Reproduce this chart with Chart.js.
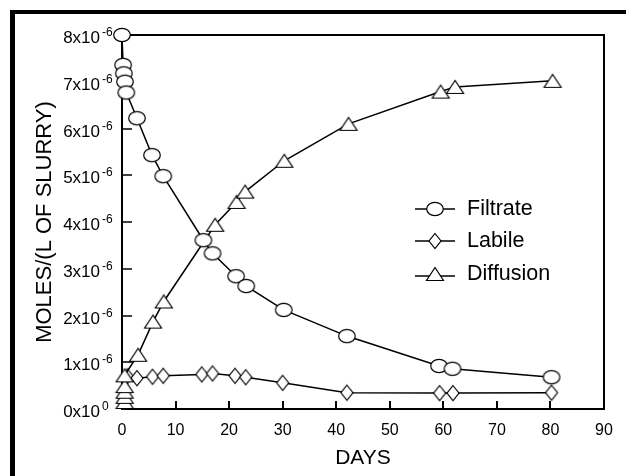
<!DOCTYPE html>
<html>
<head>
<meta charset="utf-8">
<title>Moles per litre of slurry vs days</title>
<script src="https://cdn.jsdelivr.net/npm/chart.js@4.4.0/dist/chart.umd.min.js"></script>
<style>
    html, body { margin: 0; padding: 0; background: #fff; }
    #wrap { width: 626px; height: 476px; }
</style>
</head>
<body>
<div id="wrap"><canvas id="chart" width="626" height="476"></canvas></div>
<script>
// Datos (valores en unidades de 1e-6 mol/L)
const xTicks = [0, 10, 20, 30, 40, 50, 60, 70, 80, 90];
const yTicks = [0, 1, 2, 3, 4, 5, 6, 7, 8];
const yExponents = ['0', '-6', '-6', '-6', '-6', '-6', '-6', '-6', '-6'];

const filtrateDays = [0, 0.2, 0.35, 0.55, 0.8, 2.8, 5.6, 7.7, 15.2, 16.9, 21.3, 23.2, 30.2, 42, 59.2, 61.7, 80.2];
const filtrate = [8.0, 7.36, 7.18, 7.0, 6.77, 6.22, 5.43, 4.98, 3.61, 3.33, 2.84, 2.63, 2.12, 1.56, 0.92, 0.86, 0.68];

const labileDays = [1.0, 2.8, 5.7, 7.7, 14.9, 16.9, 21.1, 23.1, 30.0, 42.0, 59.3, 61.8, 80.2];
const labile = [0.70, 0.66, 0.69, 0.71, 0.74, 0.76, 0.71, 0.68, 0.56, 0.35, 0.34, 0.34, 0.35];

const diffusionDays = [0.5, 0.5, 0.5, 0.5, 0.5, 3.0, 5.8, 7.8, 17.4, 21.4, 23.0, 30.3, 42.3, 59.5, 62.2, 80.4];
const diffusion = [0.15, 0.26, 0.37, 0.49, 0.72, 1.16, 1.87, 2.30, 3.94, 4.43, 4.65, 5.31, 6.10, 6.79, 6.89, 7.02];

const seriesNames = ['Filtrate', 'Labile', 'Diffusion'];

const FONT = '"Liberation Sans", Arial, Helvetica, sans-serif';

// Marcadores huecos (fondo blanco, borde negro)
function makeMarker(kind) {
    const c = document.createElement('canvas');
    c.width = 22;
    c.height = 22;
    const g = c.getContext('2d');
    g.fillStyle = '#fff';
    g.strokeStyle = '#000';
    g.lineWidth = 1.2;
    g.beginPath();
    if (kind === 'circle') {
        g.ellipse(11, 11, 8.3, 6.7, 0, 0, Math.PI * 2);
    } else if (kind === 'diamond') {
        g.moveTo(11, 3.5); g.lineTo(17, 11); g.lineTo(11, 18.5); g.lineTo(5, 11); g.closePath();
    } else {
        g.moveTo(11, 4.5); g.lineTo(19.5, 17.5); g.lineTo(2.5, 17.5); g.closePath();
    }
    g.fill();
    g.stroke();
    return c;
}

const markers = [makeMarker('circle'), makeMarker('diamond'), makeMarker('triangle')];

function toPoints(xs, ys) {
    return xs.map((x, i) => ({ x: x, y: ys[i] }));
}

function makeDataset(label, xs, ys, marker, order) {
    return {
        label: label,
        data: toPoints(xs, ys),
        borderColor: '#000',
        borderWidth: 1.5,
        pointStyle: marker,
        pointRadius: 8,
        tension: 0,
        clip: false,
        order: order
    };
}

// Marco, ejes y marcas de graduación hacia dentro
const framePlugin = {
    id: 'frame',
    beforeDraw(chart) {
        const ctx = chart.ctx;
        ctx.save();
        ctx.fillStyle = '#fff';
        ctx.fillRect(0, 0, chart.width, chart.height);
        ctx.fillStyle = '#000';
        ctx.fillRect(10, 10, 5, chart.height - 10);
        ctx.fillRect(10, 10, chart.width - 10, 4);
        ctx.restore();
    },
    beforeDatasetsDraw(chart) {
        const ctx = chart.ctx;
        const a = chart.chartArea;
        const xs = chart.scales.x;
        const ys = chart.scales.y;
        ctx.save();
        ctx.strokeStyle = '#000';
        ctx.lineWidth = 2;
        ctx.strokeRect(a.left, a.top, a.right - a.left, a.bottom - a.top);

        ctx.lineWidth = 2;
        xTicks.slice(1, -1).forEach(v => {
            const px = Math.round(xs.getPixelForValue(v));
            ctx.beginPath();
            ctx.moveTo(px, a.bottom);
            ctx.lineTo(px, a.bottom - 8);
            ctx.stroke();
        });
        ctx.lineWidth = 1.5;
        yTicks.slice(1, -1).forEach(v => {
            const py = Math.round(ys.getPixelForValue(v));
            ctx.beginPath();
            ctx.moveTo(a.left, py);
            ctx.lineTo(a.left + 10, py);
            ctx.stroke();
        });
        ctx.restore();
    },
    afterDraw(chart) {
        const ctx = chart.ctx;
        const a = chart.chartArea;
        const ys = chart.scales.y;
        ctx.save();
        ctx.fillStyle = '#000';

        // Etiquetas del eje Y con exponente
        yTicks.forEach((v, i) => {
            const py = ys.getPixelForValue(v);
            ctx.font = '17px ' + FONT;
            ctx.textAlign = 'right';
            ctx.textBaseline = 'alphabetic';
            ctx.fillText(v + 'x10', a.left - 22, py + 8);
            ctx.font = '12px ' + FONT;
            ctx.textAlign = 'left';
            ctx.fillText(yExponents[i], a.left - 20, py + 1);
        });

        // Títulos de los ejes
        ctx.font = '21px ' + FONT;
        ctx.textAlign = 'center';
        ctx.textBaseline = 'middle';
        ctx.fillText('DAYS', (a.left + a.right) / 2, 458);
        ctx.font = '22px ' + FONT;
        ctx.translate(45, (a.top + a.bottom) / 2);
        ctx.rotate(-Math.PI / 2);
        ctx.fillText('MOLES/(L OF SLURRY)', 0, 0);
        ctx.setTransform(1, 0, 0, 1, 0, 0);

        // Leyenda dentro del área del gráfico
        const rows = [209, 241, 274];
        const lineY = [209, 241, 276];
        ctx.lineWidth = 1.5;
        ctx.strokeStyle = '#000';
        seriesNames.forEach((name, i) => {
            ctx.beginPath();
            ctx.moveTo(415, lineY[i]);
            ctx.lineTo(455, lineY[i]);
            ctx.stroke();
            const m = markers[i];
            ctx.drawImage(m, 435 - m.width / 2, rows[i] - m.height / 2);
            ctx.font = '21.5px ' + FONT;
            ctx.textAlign = 'left';
            ctx.textBaseline = 'middle';
            ctx.fillText(name, 467, rows[i]);
        });
        ctx.restore();
    }
};

const chart = new Chart(document.getElementById('chart'), {
    type: 'line',
    data: {
        datasets: [
            makeDataset(seriesNames[0], filtrateDays, filtrate, markers[0], 0),
            makeDataset(seriesNames[1], labileDays, labile, markers[1], 2),
            makeDataset(seriesNames[2], diffusionDays, diffusion, markers[2], 1)
        ]
    },
    options: {
        responsive: false,
        animation: false,
        events: [],
        layout: { padding: { left: 12, top: 35, right: 22, bottom: 0 } },
        plugins: {
            legend: { display: false },
            tooltip: { enabled: false }
        },
        scales: {
            x: {
                type: 'linear',
                min: xTicks[0],
                max: xTicks[xTicks.length - 1],
                afterBuildTicks: s => { s.ticks = xTicks.map(v => ({ value: v })); },
                afterFit: s => { s.height = 67; },
                grid: { display: false },
                border: { display: false },
                ticks: {
                    color: '#000',
                    padding: 4,
                    maxRotation: 0,
                    font: { family: FONT, size: 16 }
                }
            },
            y: {
                type: 'linear',
                min: yTicks[0],
                max: yTicks[yTicks.length - 1],
                afterBuildTicks: s => { s.ticks = yTicks.map(v => ({ value: v })); },
                afterFit: s => { s.width = 110; },
                grid: { display: false },
                border: { display: false },
                ticks: { display: false }
            }
        }
    },
    plugins: [framePlugin]
});
</script>
</body>
</html>
